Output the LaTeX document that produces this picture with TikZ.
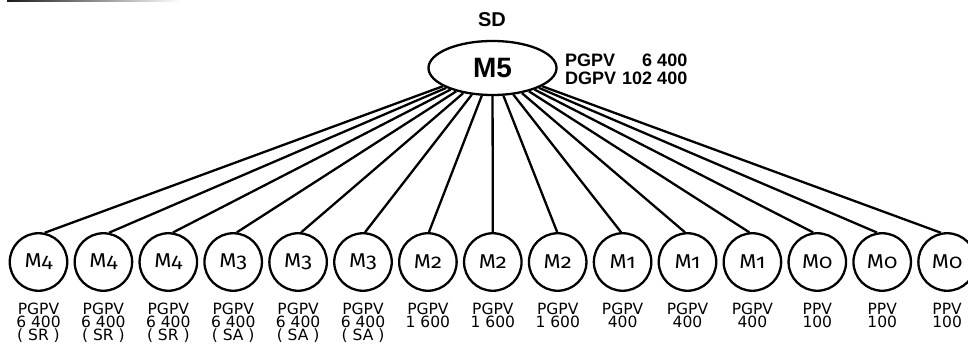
\documentclass[tikz,border=0pt]{standalone}
\usepackage{fontspec}
\setmainfont{DejaVu Sans}
\newfontfamily\helvb{Liberation Sans}
\newfontfamily\osf{Fira Sans}[Numbers=OldStyle, FakeStretch=1.1]
\usetikzlibrary{shapes.geometric}
\begin{document}
\begin{tikzpicture}[x=1pt,y=-1pt,
  topnode/.style={ellipse, draw, line width=2.3pt, minimum width=128pt, minimum height=54pt, inner sep=0pt,
    font=\helvb\bfseries\fontsize{28}{30}\selectfont},
  leaf/.style={circle, draw, line width=2.3pt, minimum size=57.5pt, inner sep=0pt,
    font=\osf\fontsize{20}{21}\selectfont},
  info/.style={anchor=north, align=center, inner sep=0pt, font=\fontsize{15.5}{13}\selectfont},
  link/.style={line width=2.3pt},
  boldlab/.style={inner sep=0pt, font=\helvb\bfseries\fontsize{18}{17.5}\selectfont}]
\useasboundingbox (0,0) rectangle (968,347);
\clip (0,0) rectangle (968,347);
\shade[left color=black!90, right color=white] (7,0) rectangle (180,1.5);
\node[topnode] (e) at (492.5,68) {M5};
\node[inner sep=0pt, anchor=base, font=\helvb\bfseries\fontsize{20}{21}\selectfont] (sd) at (492,27) {SD};
\node[boldlab, anchor=base west] (lab) at (565,67) {\begin{tabular}[t]{@{}l@{\hspace{6pt}}r@{}}PGPV & 6 400\\ DGPV & 102 400\end{tabular}};
\foreach \m/\txt [count=\i from 0] in {
  4/{PGPV\\6 400\\( SR )}, 4/{PGPV\\6 400\\( SR )}, 4/{PGPV\\6 400\\( SR )},
  3/{PGPV\\6 400\\( SA )}, 3/{PGPV\\6 400\\( SA )}, 3/{PGPV\\6 400\\( SA )},
  2/{PGPV\\1 600}, 2/{PGPV\\1 600}, 2/{PGPV\\1 600},
  1/{PGPV\\400}, 1/{PGPV\\400}, 1/{PGPV\\400},
  0/{PPV\\100}, 0/{PPV\\100}, 0/{PPV\\100}}
{
  \node[leaf] (c\i) at ({38.5+64.9*\i},262) {M\m};
  \node[info] (t\i) at ({38.5+64.9*\i},303) {\txt};
  \pgfmathsetmacro\ang{90+(\i-7)*12/7}
  \draw[link] (e) -- (c\i.\ang);
}
\end{tikzpicture}
\end{document}
